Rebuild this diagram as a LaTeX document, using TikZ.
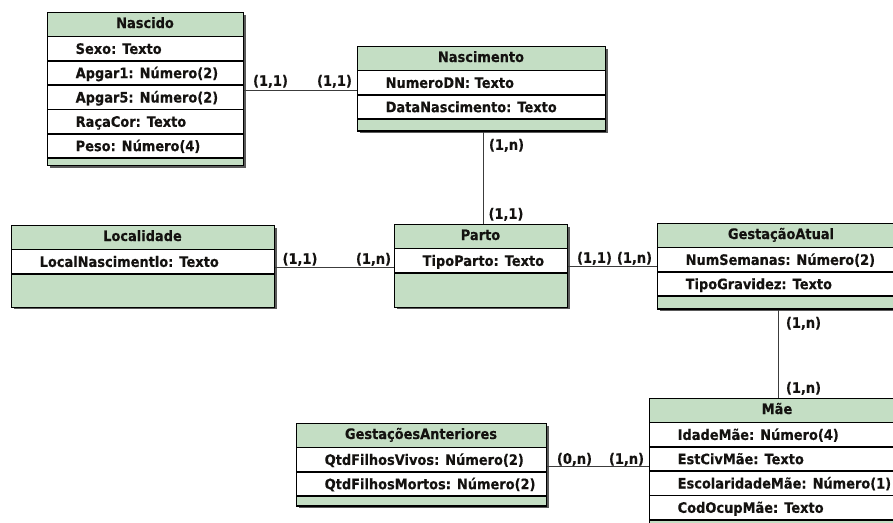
\documentclass[tikz,border=0pt]{standalone}
\usepackage{fontspec}
\setmainfont{DejaVu Sans}[FakeStretch=0.9, BoldFeatures={FakeBold=0.3}]
\definecolor{headgreen}{RGB}{196,222,196}
\definecolor{boxshadow}{RGB}{90,90,90}
\definecolor{ink}{RGB}{20,18,16}
\definecolor{wire}{RGB}{60,60,60}
\tikzset{
  erfont/.style={font=\bfseries\fontsize{14.4}{16}\selectfont, text=ink,
    text height=10.5pt, text depth=3pt, inner sep=0pt},
  etitle/.style={erfont, anchor=center},
  eattr/.style={erfont, anchor=west, yshift=-1.5pt},
  card/.style={erfont, anchor=center},
  entbox/.style={draw=black, line width=1.4pt, inner sep=0pt, anchor=north west},
  rowsep/.style={draw=black, line width=1.6pt},
  conn/.style={draw=wire, line width=1pt}
}
% entity: name, x1, x2, ytop, rows, footer height, title, attribute list
\newcommand\erentity[8]{%
  \pgfmathsetmacro\ehead{#4+24.5}%
  \pgfmathsetmacro\erows{\ehead+#5*24.3}%
  \pgfmathsetmacro\ebot{\erows+#6}%
  \fill[boxshadow] (#2+2.5,#4+2.5) rectangle (#3+2.5,\ebot+2.5);
  \fill[headgreen] (#2,#4) rectangle (#3,\ebot);
  \fill[white] (#2,\ehead) rectangle (#3,\erows);
  \node[etitle] (#1-title) at ({(#2+#3)/2},{(#4+\ehead)/2}) {#7};
  \draw[rowsep] (#2,\ehead) -- (#3,\ehead);
  \foreach \t [count=\i] in {#8} {
    \draw[rowsep] (#2,\ehead+\i*24.3) -- (#3,\ehead+\i*24.3);
    \node[eattr] (#1-a\i) at (#2+28.5,\ehead+\i*24.3-12.15) {\t};
  }
  \node[entbox, minimum width={#3-#2}, minimum height={\ebot-#4}] (#1) at (#2,#4) {};
}
\begin{document}
\begin{tikzpicture}[x=1pt,y=-1pt]
\useasboundingbox (0,0) rectangle (893,522);
\clip (0,0) rectangle (893,522);

\erentity{nascido}{47}{243}{12}{5}{7}{Nascido}
  {Sexo: Texto,Apgar1: Número(2),Apgar5: Número(2),RaçaCor: Texto,Peso: Número(4)}
\erentity{nascimento}{357}{605}{46}{2}{11}{Nascimento}
  {NumeroDN: Texto,DataNascimento: Texto}
\erentity{localidade}{11}{274}{225}{1}{33}{Localidade}
  {LocalNascimentlo: Texto}
\erentity{parto}{394}{567}{224}{1}{34}{Parto}
  {TipoParto: Texto}
\erentity{gestatual}{657}{905}{223}{2}{12}{GestaçãoAtual}
  {NumSemanas: Número(2),TipoGravidez: Texto}
\erentity{mae}{649}{905}{398}{4}{10}{Mãe}
  {IdadeMãe: Número(4),EstCivMãe: Texto,EscolaridadeMãe: Número(1),CodOcupMãe: Texto}
\erentity{gestant}{296}{546}{423}{2}{9}{GestaçõesAnteriores}
  {QtdFilhosVivos: Número(2),QtdFilhosMortos: Número(2)}

% relationships
\draw[conn] (nascido.east |- 0,90) -- (nascimento.west |- 0,90);
\draw[conn] (nascimento.south -| 483,0) -- (parto.north -| 483,0);
\draw[conn] (localidade.east |- 0,267) -- (parto.west |- 0,267);
\draw[conn] (parto.east |- 0,266) -- (gestatual.west |- 0,266);
\draw[conn] (gestatual.south -| 778,0) -- (mae.north -| 778,0);
\draw[conn] (gestant.east |- 0,466) -- (mae.west |- 0,466);

% cardinalities
\node[card] (k1) at (270.5,82) {(1,1)};
\node[card] (k2) at (334.5,82) {(1,1)};
\node[card] (k3) at (506.5,146) {(1,n)};
\node[card] (k4) at (506,215) {(1,1)};
\node[card] (k5) at (300,260) {(1,1)};
\node[card] (k6) at (373.5,260) {(1,n)};
\node[card] (k7) at (594.5,259) {(1,1)};
\node[card] (k8) at (634.5,259) {(1,n)};
\node[card] (k9) at (803.5,324) {(1,n)};
\node[card] (k10) at (803.5,389) {(1,n)};
\node[card] (k11) at (574.5,460) {(0,n)};
\node[card] (k12) at (626.5,460) {(1,n)};
\end{tikzpicture}
\end{document}
